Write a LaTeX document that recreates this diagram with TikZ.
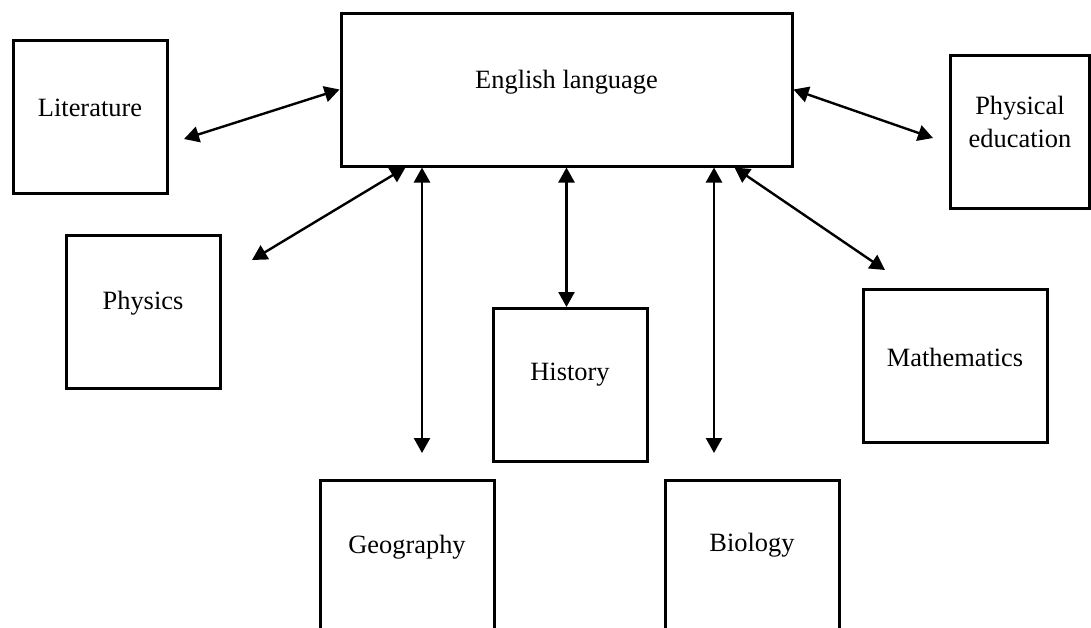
\documentclass[tikz,border=0pt]{standalone}
\usepackage{fontspec}
\setmainfont{Liberation Serif}
\usetikzlibrary{arrows.meta}

\begin{document}
\begin{tikzpicture}[x=0.5pt, y=-0.5pt,
    font=\fontsize{13.2}{16.5}\selectfont,
    subject/.style={draw, line width=1.5pt, minimum width=77pt,
        minimum height=76.5pt, inner sep=0pt},
    link/.style={<->, >={Triangle[length=7.5pt,width=8pt]}, line width=1.2pt}]
    \clip (0,0) rectangle (1091,627);
    % centre
    \node[subject, minimum width=225.5pt,
        label={[yshift=3.75pt]center:English language}] (eng) at (566.5,89.5) {};
    % subjects round it
    \node[subject, label={[yshift=4.5pt]center:Literature}] (lit) at (90,116.5) {};
    \node[subject, minimum width=69.5pt,
        label={[yshift=5pt,align=center]center:Physical\\education}] (phed) at (1020,131.5) {};
    \node[subject, label={[yshift=4.25pt]center:Physics}] (phy) at (143,311.5) {};
    \node[subject, label={[yshift=5pt]center:History}] (his) at (570,385) {};
    \node[subject, minimum width=92pt, label={[yshift=4.25pt]center:Mathematics}] (mat) at (955,365.5) {};
    \node[subject, minimum width=87pt, label={[yshift=4.75pt]center:Geography}] (geo) at (407,556.5) {};
    \node[subject, minimum width=87pt, label={[yshift=5.5pt]center:Biology}] (bio) at (752,556.5) {};
    % loose ends of the arrows
    \coordinate (litend) at (184,139);
    \coordinate (phedend) at (933,138);
    \coordinate (phyend) at (252,260);
    \coordinate (matend) at (885,270);
    \coordinate (geoend) at (422,453);
    \coordinate (bioend) at (714,453);
    \draw[link] (litend) -- (eng.west);
    \draw[link] (eng.east) -- (phedend);
    \draw[link] (phyend) -- ([xshift=33pt]eng.south west);
    \draw[link] (geoend) -- (geoend |- eng.south);
    \draw[link] (eng.south) -- (eng.south |- his.north);
    \draw[link] (bioend) -- (bioend |- eng.south);
    \draw[link] ([xshift=-29.5pt]eng.south east) -- (matend);
\end{tikzpicture}
\end{document}
